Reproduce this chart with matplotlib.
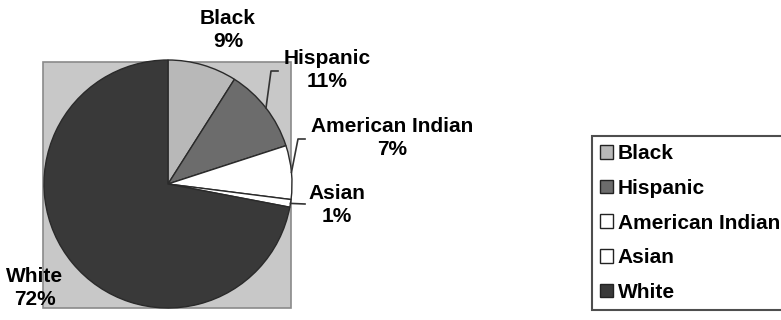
import numpy as np
import matplotlib
matplotlib.use("Agg")
import matplotlib.pyplot as plt
from matplotlib.patches import Rectangle

categories = ["Black", "Hispanic", "American Indian", "Asian", "White"]
shares = [9, 11, 7, 1, 72]
pct_labels = ["9%", "11%", "7%", "1%", "72%"]

slice_colors = ["#b8b8b8", "#6c6c6c", "#ffffff", "#ffffff", "#393939"]
# label text centre positions (image pixel coords) - layout only
label_pos = [(228, 30), (327, 70), (392, 138), (337, 205), (35, 288)]
leader = [False, True, True, True, False]

W, H = 781, 320
plt.rcParams['font.family'] = ['Liberation Sans', 'DejaVu Sans']
fig = plt.figure(figsize=(W / 100, H / 100), dpi=100)
ax = fig.add_axes([0, 0, 1, 1])

def img(x, y):
    return x, H - y

cx, cy = img(168, 184)
R = 124

# plot-area background
ax.add_patch(Rectangle(img(43, 308), 248, 246, facecolor="#c8c8c8",
                       edgecolor="#8a8a8a", linewidth=1.2, zorder=0))

wedges, _ = ax.pie(shares, colors=slice_colors, startangle=90, counterclock=False,
                   center=(cx, cy), radius=R,
                   wedgeprops=dict(edgecolor="#2a2a2a", linewidth=1.0))
for w in wedges:
    w.set_zorder(2)

FS = 15
total = float(sum(shares))
cum = 0.0
for i, (cat, s) in enumerate(zip(categories, shares)):
    mid = (cum + s / 2) / total * 360.0
    cum += s
    lx, ly = img(*label_pos[i])
    ax.text(lx, ly, f"{cat}\n{pct_labels[i]}", ha="center", va="center",
            fontsize=FS, fontweight="bold", linespacing=1.3, zorder=5)
    if leader[i]:
        a = np.deg2rad(mid)
        ex, ey = cx + R * np.sin(a), cy + R * np.cos(a)
        if cat == "Asian":
            ax.plot([ex, lx - 32], [ey, ly + 1], color="#333333", lw=1.2, zorder=4)
        else:
            tx = lx - (56 if cat == "Hispanic" else 94)
            ty = ly - 1
            ax.plot([tx + 7, tx, ex], [ty, ty, ey], color="#333333", lw=1.2, zorder=4)

leg = ax.legend(wedges, categories, loc="upper left",
                bbox_to_anchor=img(592, 136), bbox_transform=ax.transData,
                borderaxespad=0, frameon=True, fancybox=False,
                prop=dict(family="Liberation Sans", weight="bold", size=FS),
                handlelength=0.63, handleheight=0.63, handletextpad=0.2,
                labelspacing=0.75, borderpad=0.4)
leg.get_frame().set_edgecolor("#222222")
leg.get_frame().set_linewidth(1.5)
for h in leg.legend_handles:
    h.set_edgecolor("#222222")
    h.set_linewidth(1.0)

ax.set_xlim(0, W)
ax.set_ylim(0, H)
ax.set_aspect("auto")
ax.axis("off")
fig.savefig("out.png", dpi=100)
